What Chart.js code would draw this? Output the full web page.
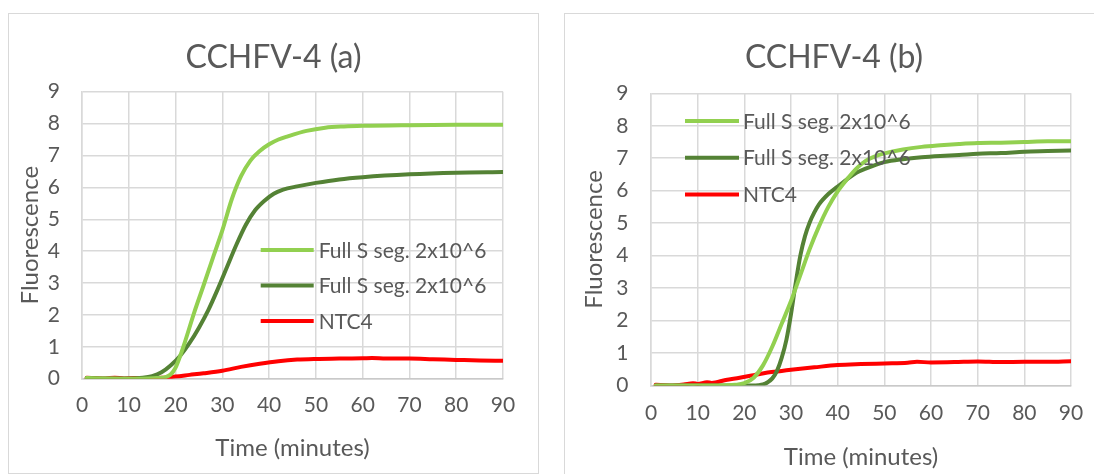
<!DOCTYPE html>
<html><head><meta charset="utf-8">
<script src="https://cdn.jsdelivr.net/npm/chart.js@4.4.1/dist/chart.umd.min.js"></script>
<style>
html,body{margin:0;padding:0;background:#fff;overflow:hidden;width:1094px;height:474px;position:relative;}
.panel{position:absolute;border:1px solid #d9d9d9;background:#fff;}
#pa{left:8px;top:13px;width:529px;height:459px;}
#pb{left:564px;top:13px;width:538px;height:462px;}
canvas{display:block;}
</style></head><body>
<div class="panel" id="pa"><canvas id="ca" width="529" height="459"></canvas></div>
<div class="panel" id="pb"><canvas id="cb" width="538" height="460"></canvas></div>
<script>
// ---------- data ----------
const seriesLabels = ['Full S seg. 2x10^6', 'Full S seg. 2x10^6', 'NTC4'];
const xTicks = [0,10,20,30,40,50,60,70,80,90];
const yTicks = [0,1,2,3,4,5,6,7,8,9];

// Chart (a)
const a_light_t = [1,5,10,14,16,17,18,19,20,21,22,24,26,28,30,32,34,36,38,40,42,44,48,52,56,60,70,80,90];
const a_light_v = [0.02,0.01,0.0,0.01,0.02,0.03,0.06,0.14,0.35,0.72,1.15,2.08,2.93,3.8,4.65,5.62,6.35,6.84,7.14,7.35,7.5,7.6,7.77,7.87,7.91,7.93,7.95,7.96,7.96];
const a_dark_t = [1,5,10,13,15,17,19,21,23,25,27,29,31,33,35,37,39,41,43,46,50,55,60,70,80,90];
const a_dark_v = [0.02,0.01,0.01,0.03,0.08,0.2,0.42,0.72,1.12,1.6,2.15,2.8,3.5,4.2,4.82,5.28,5.58,5.8,5.93,6.03,6.14,6.25,6.32,6.41,6.46,6.48];
const a_red_t = [1,3,5,7,9,11,14,17,20,23,26,30,34,38,42,46,50,55,60,62,65,70,75,80,85,90];
const a_red_v = [0.03,0.02,0.01,0.03,0.01,0.02,0.02,0.03,0.07,0.12,0.17,0.25,0.37,0.47,0.55,0.6,0.62,0.63,0.64,0.65,0.63,0.63,0.61,0.59,0.57,0.56];

// Chart (b)
const b_light_t = [1,5,10,15,18,20,22,24,26,28,30,32,34,36,38,40,42,44,46,48,50,54,58,62,66,70,75,80,85,90];
const b_light_v = [0.0,0.0,0.0,0.0,0.02,0.07,0.24,0.62,1.2,1.9,2.6,3.4,4.2,4.9,5.5,5.98,6.35,6.68,6.92,7.06,7.15,7.27,7.35,7.4,7.44,7.47,7.48,7.5,7.52,7.52];
const b_dark_t = [1,10,20,23,24,25,26,27,28,29,30,31,32,33,34,35,36,38,40,42,44,46,48,50,54,58,62,66,70,75,80,85,90];
const b_dark_v = [0.0,0.0,0.0,0.01,0.03,0.1,0.22,0.45,0.85,1.4,2.2,3.15,4.0,4.6,5.02,5.33,5.58,5.9,6.13,6.35,6.55,6.68,6.79,6.88,6.97,7.03,7.07,7.1,7.14,7.16,7.2,7.22,7.24];
const b_red_t = [1,4,7,9,10,12,13,16,19,22,25,28,31,35,40,45,50,55,57,60,65,70,75,80,85,90];
const b_red_v = [0.02,0.0,0.03,0.07,0.05,0.1,0.08,0.17,0.24,0.32,0.4,0.45,0.5,0.56,0.63,0.66,0.68,0.7,0.73,0.71,0.72,0.74,0.72,0.73,0.73,0.75];

// ---------- styling ----------
const TXT = '#595959';
const COLORS = ['#92d050', '#548235', '#ff0000'];
Chart.defaults.font.family = 'Lato';

function pts(ts, vs){ return ts.map((t,i)=>({x:t, y:vs[i]})); }

const insideLegend = {
  id: 'insideLegend',
  afterDraw(chart, args, o) {
    const {ctx, chartArea} = chart;
    ctx.save();
    chart.data.datasets.forEach((ds, i) => {
      const x = chartArea.left + o.left;
      const y = chartArea.top + o.top + i * o.gap;
      ctx.strokeStyle = ds.borderColor;
      ctx.lineWidth = 4;
      ctx.lineCap = 'butt';
      ctx.beginPath(); ctx.moveTo(x, y); ctx.lineTo(x + o.lineLen, y); ctx.stroke();
      ctx.fillStyle = TXT;
      ctx.font = '21px Lato';
      ctx.textAlign = 'left';
      ctx.textBaseline = 'alphabetic';
      ctx.fillText(ds.label, x + o.lineLen + o.textGap, y + 7.5);
    });
    ctx.restore();
  }
};

function makeChart(id, title, sets, L) {
  const datasets = sets.map((s, i) => ({
    label: seriesLabels[i],
    data: pts(s[0], s[1]),
    borderColor: COLORS[i],
    backgroundColor: COLORS[i],
    borderWidth: 4,
    pointRadius: 0,
    fill: false,
    cubicInterpolationMode: 'monotone',
    borderCapStyle: 'round',
    borderJoinStyle: 'round'
  }));
  return new Chart(document.getElementById(id), {
    type: 'line',
    data: { datasets },
    plugins: [insideLegend],
    options: {
      responsive: false,
      animation: false,
      events: [],
      layout: { padding: 0 },
      plugins: {
        legend: { display: false },
        tooltip: { enabled: false },
        title: { display: true, text: title, color: TXT, font: { size: 32, weight: 'normal' },
                 padding: { top: L.titleTop, bottom: L.titleBottom } },
        insideLegend: L.legend
      },
      scales: {
        x: {
          type: 'linear', min: 0, max: 90,
          afterBuildTicks: (s) => { s.ticks = xTicks.map(v => ({ value: v })); },
          ticks: { color: TXT, font: { size: 21 }, padding: L.xTickPad, maxRotation: 0 },
          grid: { color: '#d9d9d9', lineWidth: 1.5, drawTicks: false },
          border: { color: '#c9c9c9', width: 1.5 },
          title: { display: true, text: 'Time (minutes)', color: TXT, font: { size: 24 },
                   padding: { top: 0, bottom: L.xTitlePad } },
          afterFit: (s) => { s.height = L.xHeight; }
        },
        y: {
          min: 0, max: 9,
          afterBuildTicks: (s) => { s.ticks = yTicks.map(v => ({ value: v })); },
          ticks: { color: TXT, font: { size: 21 }, padding: L.yTickPad },
          grid: { color: '#d9d9d9', lineWidth: 1.5, drawTicks: false },
          border: { color: '#d9d9d9', width: 1.5 },
          title: { display: true, text: 'Fluorescence', color: TXT, font: { size: 24 },
                   padding: { top: L.yTitlePad, bottom: 0 } },
          afterFit: (s) => { s.width = L.yWidth; }
        },
        // empty right-hand margin of the plot area (as in the original)
        rightMargin: {
          position: 'right', min: 0, max: 9,
          grid: { display: false, drawTicks: false },
          border: { display: false },
          ticks: { display: false },
          afterFit: (s) => { s.width = L.padRight; }
        }
      }
    }
  });
}

makeChart('ca', 'CCHFV-4 (a)', [[a_light_t, a_light_v], [a_dark_t, a_dark_v], [a_red_t, a_red_v]], {
  padRight: 35, titleTop: 24, titleBottom: 15.3, yWidth: 73, xHeight: 94.3,
  yTickPad: 22, xTickPad: 14, yTitlePad: 6.6, xTitlePad: 10.6,
  legend: { left: 178.7, top: 158.3, gap: 35.5, lineLen: 53, textGap: 5 }
});
makeChart('cb', 'CCHFV-4 (b)', [[b_light_t, b_light_v], [b_dark_t, b_dark_v], [b_red_t, b_red_v]], {
  padRight: 32, titleTop: 24, titleBottom: 16.9, yWidth: 86, xHeight: 88.5,
  yTickPad: 22.5, xTickPad: 15, yTitlePad: 14.6, xTitlePad: 2.6,
  legend: { left: 34, top: 27.7, gap: 36.7, lineLen: 54, textGap: 4 }
});
</script>
</body></html>
